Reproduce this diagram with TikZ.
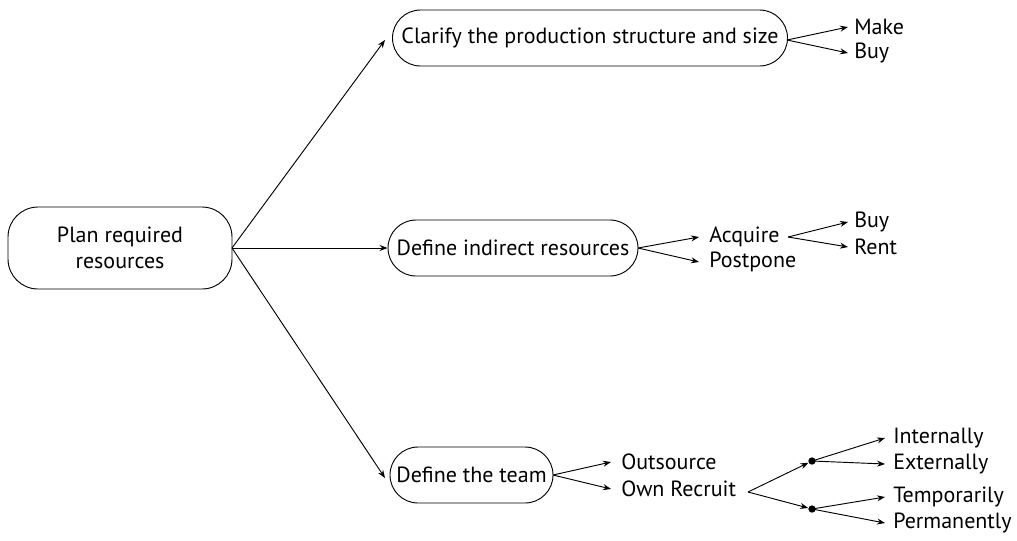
\documentclass[tikz,border=0pt]{standalone}
\usepackage{fontspec}
\setmainfont{PT Sans}
\usetikzlibrary{arrows.meta}
\begin{document}
\begin{tikzpicture}[x=0.75pt,y=-0.75pt,
  box/.style={draw, line width=0.7pt, rounded corners=28*0.75pt, align=center, inner sep=0pt, font=\fontsize{16.5}{19}\selectfont},
  lbl/.style={anchor=west, inner ysep=2.5pt, inner xsep=4.5pt, font=\fontsize{16.5}{19}\selectfont},
  wide/.style={inner xsep=7.5pt},
  mid/.style={inner xsep=6pt},
  conn/.style={line width=0.7pt, -{Stealth[length=6pt,width=4.5pt,inset=2pt]}},
  dotn/.style={circle, fill, inner sep=0pt, minimum size=5.5pt}]
\useasboundingbox (0,0) rectangle (1017,540);
% main boxes
\node[box, minimum width=224*0.75pt, minimum height=82*0.75pt, rounded corners=30*0.75pt] (plan) at (120,248) {Plan required\\resources};
\node[box, minimum width=395*0.75pt, minimum height=56*0.75pt] (clar) at (590,38) {Clarify the production structure and size};
\node[box, minimum width=250*0.75pt, minimum height=56*0.75pt] (indir) at (513,248) {Define indirect resources};
\node[box, minimum width=163*0.75pt, minimum height=56*0.75pt] (team) at (471.5,475) {Define the team};
% labels
\node[lbl] (make) at (848,27) {Make};
\node[lbl] (buy1) at (848,53) {Buy};
\node[lbl, wide] (acq) at (699,237) {Acquire};
\node[lbl, wide] (post) at (699,262) {Postpone};
\node[lbl] (buy2) at (848,222) {Buy};
\node[lbl] (rent) at (848,247) {Rent};
\node[lbl, wide] (out) at (611,462) {Outsource};
\node[lbl, wide] (own) at (611,489) {Own Recruit};
\node[lbl, mid] (int) at (885,438) {Internally};
\node[lbl, mid] (ext) at (885,464) {Externally};
\node[lbl, mid] (tmp) at (885,497) {Temporarily};
\node[lbl, mid] (perm) at (885,523) {Permanently};
\node[dotn] (d1) at (812,461) {};
\node[dotn] (d2) at (812,509) {};
\coordinate (p) at (232,248);
\coordinate (c) at (787,40);
\coordinate (i) at (638,248);
\coordinate (t) at (553,475);
\coordinate (a) at (788,237);
\coordinate (o) at (748,492);
\coordinate (x1) at (385,40);
\coordinate (x3) at (385,478);
% connectors
\draw[conn] (p) -- (x1);
\draw[conn] (p) -- (indir.west);
\draw[conn] (p) -- (x3);
\draw[conn] (c) -- (make.west);
\draw[conn] (c) -- (buy1.west);
\draw[conn] (i) -- (acq.west);
\draw[conn] (i) -- (post.west);
\draw[conn] (a) -- (buy2.west);
\draw[conn] (a) -- (rent.west);
\draw[conn] (t) -- (out.west);
\draw[conn] (t) -- (own.west);
\draw[conn] (o) -- (d1);
\draw[conn] (o) -- (d2);
\draw[conn] (d1.center) -- (int.west);
\draw[conn] (d1.center) -- (ext.west);
\draw[conn] (d2.center) -- (tmp.west);
\draw[conn] (d2.center) -- (perm.west);
\end{tikzpicture}
\end{document}
